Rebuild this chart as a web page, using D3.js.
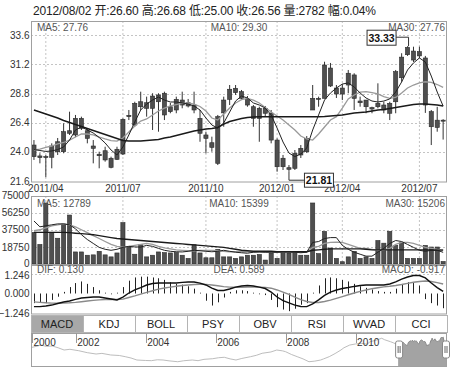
<!DOCTYPE html>
<html><head><meta charset="utf-8">
<script src="https://cdn.jsdelivr.net/npm/d3@7/dist/d3.min.js"></script>
<style>
html,body{margin:0;padding:0;background:#fff;}
svg{display:block;font-family:"Liberation Sans",Arial,"Noto Sans CJK SC",sans-serif;}
</style></head><body>
<svg id="chart" width="450" height="367"></svg>
<script>
// ---------------- DATA ----------------
const titleText = "2012/08/02 开:26.60 高:26.68 低:25.00 收:26.56 量:2782 幅:0.04%";
const tickIdx = [2, 15, 29, 41, 52, 65];
const tickLabels = ["2011/04", "2011/07", "2011/10", "2012/01", "2012/04", "2012/07"];
const priceTicks = [21.6, 24.0, 26.4, 28.8, 31.2, 33.6];
const volTicks = [0, 18750, 37500, 56250, 75000];
const macdTicks = [-1.246, 0, 1.246];

const openP = [24.55,23.65,23.60,23.54,24.00,24.00,25.73,25.38,26.75,25.73,
24.47,23.79,24.08,23.46,23.37,23.81,26.89,26.20,27.71,28.04,
27.58,28.12,28.82,27.30,27.44,28.26,27.77,27.85,26.75,25.38,
24.74,23.04,27.20,28.32,28.87,28.95,28.32,27.71,26.75,27.58,
27.17,24.96,22.76,22.68,22.63,23.73,24.00,27.44,28.40,28.40,
30.90,29.25,28.76,29.50,30.33,28.18,28.26,27.63,27.71,27.85,
27.17,28.12,30.10,32.00,32.30,31.90,31.73,27.30,26.00,26.60];
const highP = [24.96,23.87,23.73,24.69,25.13,26.34,27.30,27.03,26.89,25.93,
24.96,24.00,24.41,23.59,24.41,26.75,27.44,28.12,28.95,28.54,
28.82,28.82,28.95,28.02,28.54,28.95,28.35,28.95,27.44,25.65,
25.24,27.03,28.54,29.50,29.50,29.09,28.59,27.85,27.71,27.77,
27.44,25.10,23.73,22.90,24.14,24.55,25.29,29.50,28.54,31.42,
31.32,29.50,29.58,30.74,30.47,28.54,28.26,27.71,29.64,28.12,
28.12,30.74,32.12,32.70,32.66,32.66,31.90,27.44,27.70,26.68];
const lowP = [23.32,23.04,21.90,22.63,23.73,23.87,25.38,25.20,25.79,24.69,
23.04,22.63,23.18,22.63,23.32,23.73,26.61,26.06,27.44,26.89,
25.79,25.65,26.61,27.17,27.17,27.58,27.65,27.17,24.82,23.87,
24.00,22.90,26.06,27.85,28.68,28.26,27.71,26.06,24.82,26.94,
24.69,22.35,22.49,22.35,22.49,23.48,23.89,27.44,27.71,28.40,
29.34,28.43,28.26,28.82,27.44,27.71,27.17,27.17,27.58,27.17,
26.61,27.17,29.77,31.90,31.40,31.73,27.20,24.55,25.65,25.00];
const closeP = [23.59,23.51,23.55,24.47,24.82,25.65,25.52,26.75,25.93,25.10,
24.28,23.67,23.32,22.71,24.20,26.67,27.00,27.99,28.12,27.58,
28.59,28.68,27.03,27.71,28.32,27.85,28.04,27.44,25.52,25.10,
24.36,26.89,28.26,29.15,29.23,28.40,27.85,26.75,27.58,27.17,
24.96,22.76,23.46,22.55,23.87,24.28,25.10,28.40,28.32,31.15,
29.42,28.76,29.25,30.47,28.40,28.04,27.71,27.52,27.99,27.44,
27.99,30.60,31.80,32.60,31.56,32.25,27.85,26.06,26.60,26.56];

const ma5 = [24.18,24.10,24.02,24.06,24.18,24.39,24.96,25.79,26.04,25.79,
25.54,25.17,24.72,24.14,23.73,24.39,25.38,26.45,27.44,27.93,
28.26,28.51,28.26,28.10,28.10,28.02,27.93,27.77,27.44,26.78,
26.20,25.95,26.37,27.27,28.18,28.59,28.43,28.02,27.85,27.60,
27.03,25.95,24.80,23.89,23.60,23.81,24.31,25.79,27.03,28.26,
28.84,29.25,29.58,29.67,29.34,28.84,28.43,28.18,28.10,28.18,
28.35,28.92,29.75,30.74,31.32,31.73,31.40,30.24,28.92,27.76];
const ma10 = [24.14,24.22,24.35,24.47,24.64,24.76,24.96,25.21,25.46,25.46,
25.38,25.21,25.05,24.92,24.88,25.13,25.62,26.12,26.53,26.70,
27.03,27.36,27.60,27.77,27.89,27.98,28.02,27.93,27.73,27.36,
26.78,26.61,27.11,27.60,28.02,28.30,28.39,28.26,28.02,27.65,
27.27,26.94,26.61,26.20,25.79,25.29,25.05,24.96,25.46,26.04,
26.61,26.89,27.60,28.35,28.68,28.92,28.96,28.88,28.76,28.55,
28.40,28.47,28.84,29.25,29.50,29.67,29.77,29.71,29.54,29.30];
const ma30 = [27.44,27.27,27.11,26.94,26.78,26.57,26.41,26.24,26.08,25.91,
25.75,25.58,25.42,25.25,25.09,24.92,24.88,24.88,24.88,24.92,
24.96,25.01,25.13,25.21,25.34,25.46,25.58,25.71,25.79,25.87,
25.91,26.00,26.28,26.49,26.61,26.74,26.82,26.86,26.89,26.89,
26.89,26.89,26.89,26.89,26.89,26.89,26.89,26.89,26.89,26.90,
26.94,26.99,27.03,27.11,27.19,27.23,27.27,27.36,27.44,27.48,
27.56,27.65,27.73,27.81,27.89,27.93,27.93,27.89,27.85,27.76];

const volume = [34600,21400,66800,34600,28200,43600,53600,13200,13200,9600,
10000,13900,10000,7800,12100,45300,18600,10700,21100,7800,
9600,13200,12500,12100,12500,9600,6100,21100,12100,6800,
6800,16100,7800,7800,6100,7800,9600,9600,10400,4300,
12100,6100,13900,12100,12500,9600,9600,66800,11400,35700,
17500,6100,2500,7800,13900,6100,7800,6100,25700,22800,
35700,20400,23200,6100,6100,6100,20400,18600,18600,2782];
const volMa5 = [47100,40700,41800,42900,43900,43900,42900,38600,32100,26800,
22500,18200,16100,15000,16100,18200,19300,18700,18500,20400,
19300,17100,15000,13900,13400,13200,13900,15000,14500,13900,
13400,13900,15000,13900,12900,12300,11800,12900,13200,12900,
12900,12900,13400,13200,12900,12300,12900,23600,24600,27900,
28900,28900,20400,16100,12900,10700,8600,8600,12900,17100,
22500,25700,24600,21400,18200,15000,13900,15000,15000,12789];
const volMa10 = [36400,37500,39600,41800,42900,43900,42900,40700,37500,34300,
31100,27900,24600,21400,19300,18500,19300,20400,21400,22500,
21400,19300,17700,16600,15500,15000,14500,14500,15000,15000,
15000,14500,13900,13400,13400,13400,13200,12900,12900,12900,
12900,12900,12900,12900,12900,12900,12900,18200,19300,22500,
23600,23900,23600,21400,19300,17100,17100,16100,15000,15000,
17100,21400,23600,23600,22500,20400,18200,17100,16100,15399];
const volMa30 = [34600,34600,34600,34600,34600,34600,34300,33700,33200,32700,
32100,31100,30000,28900,27900,27300,26800,26200,25700,25200,
24600,24100,23600,23000,22500,22000,21400,20900,20400,19800,
19300,18700,18200,17100,16100,15000,14500,13900,13900,13900,
13900,13400,13400,13400,13400,13400,13400,15000,15500,16100,
16600,16600,16600,16600,16600,16600,16100,15500,15500,15500,
15500,15500,15500,15500,15500,15500,15500,15300,15200,15206];

const dif = [-0.82,-0.82,-0.78,-0.72,-0.62,-0.53,-0.47,-0.37,-0.28,-0.25,
-0.22,-0.22,-0.28,-0.34,-0.40,-0.22,0.03,0.22,0.37,0.53,
0.62,0.65,0.65,0.65,0.65,0.69,0.72,0.72,0.65,0.53,
0.34,0.19,0.19,0.28,0.40,0.47,0.50,0.47,0.40,0.31,
0.09,-0.22,-0.44,-0.59,-0.72,-0.81,-0.82,-0.65,-0.40,-0.12,
0.09,0.22,0.31,0.37,0.44,0.50,0.53,0.53,0.53,0.53,
0.59,0.72,0.90,1.03,1.12,1.12,0.97,0.65,0.37,0.130];
const dea = [-0.52,-0.55,-0.58,-0.60,-0.61,-0.60,-0.58,-0.55,-0.51,-0.47,
-0.43,-0.40,-0.37,-0.36,-0.37,-0.35,-0.25,-0.15,-0.04,0.07,
0.17,0.27,0.34,0.40,0.45,0.50,0.53,0.56,0.58,0.57,
0.53,0.48,0.43,0.40,0.39,0.39,0.40,0.40,0.40,0.38,
0.33,0.22,0.08,-0.06,-0.22,-0.38,-0.50,-0.56,-0.56,-0.50,
-0.41,-0.30,-0.19,-0.08,0.03,0.13,0.22,0.30,0.36,0.41,
0.45,0.50,0.56,0.63,0.70,0.75,0.78,0.75,0.68,0.589];
const macdHist = [-0.60,-0.55,-0.60,-0.40,-0.20,0.10,0.40,0.65,0.75,0.60,
0.40,0.20,0.05,-0.05,0.05,0.40,0.80,1.00,1.05,1.05,
1.00,0.95,0.85,0.70,0.60,0.55,0.45,0.30,0.05,-0.45,
-0.75,-0.55,-0.25,0.10,0.20,0.20,0.15,0.05,-0.05,-0.10,
-0.40,-0.85,-1.00,-1.10,-0.95,-0.70,-0.60,0.05,0.50,0.95,
1.00,0.95,0.85,0.75,0.60,0.45,0.35,0.25,0.15,0.10,
0.10,0.30,0.55,0.70,0.65,0.50,-0.35,-0.60,-0.75,-0.917];

const priceLegend = ["MA5: 27.76", "MA10: 29.30", "MA30: 27.76"];
const volLegend = ["MA5: 12789", "MA10: 15399", "MA30: 15206"];
const macdLegend = ["DIF: 0.130", "DEA: 0.589", "MACD: -0.917"];
const highMark = {idx: 63, text: "33.33"};
const lowMark = {idx: 43, text: "21.81"};
const indicators = ["MACD", "KDJ", "BOLL", "PSY", "OBV", "RSI", "WVAD", "CCI"];
const activeIndicator = "MACD";

const navDates = ["2000-10","2000-12","2001-01","2001-03","2001-05","2001-07","2001-09","2001-11","2002-02","2002-05","2002-08","2002-10","2003-01","2003-04","2003-06","2003-08","2003-10","2004-01","2004-03","2004-05","2004-07","2004-09","2004-12","2005-02","2005-05","2005-07","2005-09","2005-12","2006-02","2006-04","2006-06","2006-08","2006-10","2007-01","2007-03","2007-05","2007-08","2007-10","2007-12","2008-01","2008-03","2008-05","2008-07","2008-09","2008-11","2009-01","2009-02","2009-04","2009-06","2009-08","2009-09","2009-11","2010-01","2010-03","2010-05","2010-06","2010-08","2010-10","2010-11","2011-01","2011-02"];
const navValues = [21.0,22.5,23.6,22.0,22.5,20.5,18.0,18.8,17.2,15.0,13.5,14.2,12.4,11.8,10.5,9.0,6.75,6.2,6.0,7.0,6.75,5.8,4.8,5.9,6.75,6.0,7.5,8.2,9.3,9.8,8.0,6.75,8.5,10.5,12.0,14.3,15.8,18.0,17.0,16.1,13.0,10.5,8.0,4.8,5.5,6.75,8.0,10.5,14.0,18.0,20.5,23.6,24.8,25.5,24.5,27.3,29.0,31.2,29.5,27.3,26.0];
const navTickYears = ["2000", "2002", "2004", "2006", "2008", "2010"];
const navStart = "2000-10-01", navEnd = "2012-08-02";
const selStart = "2011-03-21", selEnd = "2012-08-02";

// ---------------- LAYOUT ----------------
const L = 31, R = 447;
const P = {top: 21, bot: 182.5};
const V = {top: 196, bot: 265};
const M = {top: 265, bot: 314.5};
const B = {top: 315, bot: 332};
const N = {top: 333, bot: 366};
const GRID = "#c4c4c4", FRAME = "#a0a0a0", TXT = "#333";

const svg = d3.select("#chart");
const idx = d3.range(closeP.length);
const x = d3.scaleBand().domain(idx).range([L, R - 0.9]).paddingInner(0.3).paddingOuter(0.15);
const cx = i => x(i) + x.bandwidth() / 2;
const yP = d3.scaleLinear().domain([21.6, 33.6]).range([180.8, 35.3]);
const yV = d3.scaleLinear().domain([0, 75000]).range([264, 195.5]);
const yM = d3.scaleLinear().domain([-1.246, 1.246]).range([313.5, 273.5]);

const defs = svg.append("defs");
function clip(id, t, b) {
  defs.append("clipPath").attr("id", id).append("rect")
    .attr("x", L).attr("y", t).attr("width", R - L).attr("height", b - t);
}
clip("cP", P.top, P.bot); clip("cV", V.top, V.bot); clip("cM", M.top, M.bot);

// title (fitted to the reference span)
svg.append("text").attr("x", 33).attr("y", 14.5).attr("font-size", 12).attr("fill", "#222")
  .attr("textLength", 343).attr("lengthAdjust", "spacing").text(titleText);

// ---------- grids ----------
function vgrid(t, b) {
  svg.append("g").selectAll("line").data(tickIdx).join("line")
    .attr("x1", d => cx(d)).attr("x2", d => cx(d)).attr("y1", t).attr("y2", b)
    .attr("stroke", GRID).attr("stroke-dasharray", "2,2");
}
function hgrid(vals, sc) {
  svg.append("g").selectAll("line").data(vals).join("line")
    .attr("x1", L).attr("x2", R).attr("y1", d => Math.round(sc(d)) + 0.5).attr("y2", d => Math.round(sc(d)) + 0.5)
    .attr("stroke", GRID).attr("stroke-dasharray", "2,2");
}
vgrid(P.top, P.bot); hgrid(priceTicks.slice(1), yP);
vgrid(V.top, V.bot); hgrid(volTicks.slice(1, 4), yV);
hgrid([macdTicks[2]], yM);

// ---------- axes ----------
function leftAxis(sc, vals, fmt, labelShift) {
  const g = svg.append("g").attr("transform", `translate(${L},0)`)
    .call(d3.axisLeft(sc).tickValues(vals).tickFormat(fmt).tickSize(0).tickPadding(1.5));
  g.select(".domain").remove();
  g.selectAll("text").attr("font-size", 10).attr("fill", TXT).attr("font-family", null);
  if (labelShift) g.selectAll(".tick").filter(labelShift[0]).select("text").attr("dy", labelShift[1]);
}
leftAxis(yP, priceTicks, d3.format(".1f"));
leftAxis(yV, volTicks, d3.format("d"), [d => d === 0, "0.2em"]);
leftAxis(yM, macdTicks, d3.format(".3f"), [d => d > 1, "0.45em"]);

const xa = svg.append("g").attr("transform", `translate(0,${P.bot})`)
  .call(d3.axisBottom(x).tickValues(tickIdx).tickFormat((d, k) => tickLabels[k]).tickSize(0).tickPadding(2));
xa.select(".domain").remove();
xa.selectAll("text").attr("font-size", 10).attr("fill", TXT).attr("font-family", null);

// ---------- candles ----------
const cg = svg.append("g").attr("clip-path", "url(#cP)");
cg.selectAll("line").data(idx).join("line")
  .attr("x1", i => cx(i)).attr("x2", i => cx(i))
  .attr("y1", i => yP(highP[i])).attr("y2", i => yP(lowP[i]))
  .attr("stroke", "#333").attr("stroke-width", 1);
cg.selectAll("rect").data(idx).join("rect")
  .attr("x", i => x(i)).attr("width", x.bandwidth())
  .attr("y", i => yP(Math.max(openP[i], closeP[i])))
  .attr("height", i => Math.max(1, yP(Math.min(openP[i], closeP[i])) - yP(Math.max(openP[i], closeP[i]))))
  .attr("fill", "#4f4f4f").attr("stroke", "#2a2a2a").attr("stroke-width", 0.6);

function maLine(g, arr, sc, color, w) {
  g.append("path").datum(arr)
    .attr("d", d3.line().x((d, i) => cx(i)).y(d => sc(d)))
    .attr("fill", "none").attr("stroke", color).attr("stroke-width", w);
}
maLine(cg, ma10, yP, "#9a9a9a", 1.3);
maLine(cg, ma30, yP, "#1a1a1a", 1.5);
maLine(cg, ma5, yP, "#222", 1);

// ---------- volume ----------
const vg = svg.append("g").attr("clip-path", "url(#cV)");
vg.selectAll("rect").data(idx).join("rect")
  .attr("x", i => x(i)).attr("width", x.bandwidth())
  .attr("y", i => yV(volume[i])).attr("height", i => Math.max(1, yV(0) - yV(volume[i])))
  .attr("fill", "#4f4f4f").attr("stroke", "#2a2a2a").attr("stroke-width", 0.6);
maLine(vg, volMa10, yV, "#9a9a9a", 1.3);
maLine(vg, volMa30, yV, "#1a1a1a", 1.4);
maLine(vg, volMa5, yV, "#222", 1);

// ---------- macd ----------
const mg = svg.append("g").attr("clip-path", "url(#cM)");
mg.selectAll("line").data(idx).join("line")
  .attr("x1", i => Math.round(cx(i)) + 0.5).attr("x2", i => Math.round(cx(i)) + 0.5)
  .attr("y1", yM(0)).attr("y2", i => yM(macdHist[i]))
  .attr("stroke", "#222").attr("stroke-width", 1);
maLine(mg, dea, yM, "#8a8a8a", 1.4);
maLine(mg, dif, yM, "#111", 1.4);

// ---------- frames ----------
function frame(t, b) {
  svg.append("rect").attr("x", L + 0.5).attr("y", t + 0.5).attr("width", R - L - 1).attr("height", b - t - 1)
    .attr("fill", "none").attr("stroke", FRAME);
}
frame(P.top, P.bot); frame(V.top, V.bot); frame(M.top, M.bot);

// ---------- legends ----------
function legend(y, arr) {
  svg.append("text").attr("x", 37).attr("y", y).attr("font-size", 10).attr("fill", "#555").text(arr[0]);
  svg.append("text").attr("x", 239).attr("y", y).attr("text-anchor", "middle").attr("font-size", 10).attr("fill", "#555").text(arr[1]);
  svg.append("text").attr("x", 445).attr("y", y).attr("text-anchor", "end").attr("font-size", 10).attr("fill", "#555").text(arr[2]);
}
legend(30.5, priceLegend);
legend(206.5, volLegend);
legend(272.5, macdLegend);

// ---------- high / low marks ----------
(function () {
  const c = cx(highMark.idx), yh = yP(highP[highMark.idx]);
  const bx = c - 41, by = yh - 16.5;
  svg.append("path").attr("d", `M${bx + 29},${by + 7.5}H${c + 1}V${yh}`).attr("fill", "none").attr("stroke", "#333");
  svg.append("rect").attr("x", bx + 0.5).attr("y", by + 0.5).attr("width", 29).attr("height", 15)
    .attr("fill", "#fff").attr("stroke", "#333");
  svg.append("text").attr("x", bx + 15).attr("y", by + 12).attr("text-anchor", "middle")
    .attr("font-size", 10.5).attr("font-weight", "bold").attr("fill", "#111").text(highMark.text);

  const c2 = cx(lowMark.idx), yl = yP(lowP[lowMark.idx]);
  const lx = c2 + 15, ly = yl + 1;
  svg.append("path").attr("d", `M${c2},${yl}V${ly + 7.5}H${lx}`).attr("fill", "none").attr("stroke", "#333");
  svg.append("rect").attr("x", lx + 0.5).attr("y", ly + 0.5).attr("width", 29).attr("height", 14)
    .attr("fill", "#fff").attr("stroke", "#333");
  svg.append("text").attr("x", lx + 15).attr("y", ly + 11.5).attr("text-anchor", "middle")
    .attr("font-size", 10.5).attr("font-weight", "bold").attr("fill", "#111").text(lowMark.text);
})();

// ---------- indicator buttons ----------
const bx = d3.scaleBand().domain(indicators).range([L, R]);
const bg = svg.append("g");
bg.selectAll("rect").data(indicators).join("rect")
  .attr("x", d => bx(d) + 0.5).attr("y", B.top + 0.5).attr("width", bx.bandwidth()).attr("height", B.bot - B.top)
  .attr("fill", d => d === activeIndicator ? "#a8a8a8" : "#fff").attr("stroke", "#b4b4b4");
bg.selectAll("text").data(indicators).join("text")
  .attr("x", d => bx(d) + bx.bandwidth() / 2).attr("y", B.top + 12.5).attr("text-anchor", "middle")
  .attr("font-size", 11).attr("fill", "#222").text(d => d);

// ---------- navigator ----------
const parseM = d3.timeParse("%Y-%m"), parseD = d3.timeParse("%Y-%m-%d");
const navX = d3.scaleTime().domain([parseD(navStart), parseD(navEnd)]).range([32, 446]);
const navY = d3.scaleLinear().domain([0, 36]).range([366, 334]);
const s0 = parseD(selStart), s1 = parseD(selEnd);
const weekDate = i => new Date(+s0 + (s1 - s0) * i / (closeP.length - 1));
const hist = navDates.map((d, k) => [navX(parseM(d)), navY(navValues[k])]);
const sel = closeP.map((v, i) => [navX(weekDate(i)), navY(v)]);

svg.append("rect").attr("x", L + 0.5).attr("y", N.top + 0.5).attr("width", R - L - 1).attr("height", N.bot - N.top)
  .attr("fill", "#fff").attr("stroke", FRAME);
svg.append("path").datum(sel)
  .attr("d", d3.area().x(d => d[0]).y0(N.bot).y1(d => d[1]))
  .attr("fill", "#a3a3a3");
svg.append("path").datum(hist.concat(sel))
  .attr("d", d3.line())
  .attr("fill", "none").attr("stroke", "#bdbdbd").attr("stroke-width", 1);
svg.append("path").datum(sel)
  .attr("d", d3.line())
  .attr("fill", "none").attr("stroke", "#8a8a8a").attr("stroke-width", 1);

const navXc = navX.copy().clamp(true);
const nt = svg.append("g");
nt.selectAll("line").data(navTickYears).join("line")
  .attr("x1", d => Math.round(navXc(parseM(d + "-01"))) + 0.5).attr("x2", d => Math.round(navXc(parseM(d + "-01"))) + 0.5)
  .attr("y1", N.top).attr("y2", N.top + 10).attr("stroke", "#999");
nt.selectAll("text").data(navTickYears).join("text")
  .attr("x", d => navXc(parseM(d + "-01")) + 1.5).attr("y", N.top + 13)
  .attr("font-size", 10).attr("fill", TXT).text(d => d);

[navX(s0) - 2.5, navX(s1) - 3.5].forEach(hx => {
  svg.append("rect").attr("x", hx).attr("y", 341).attr("width", 7).attr("height", 17).attr("rx", 2)
    .attr("fill", "#fff").attr("stroke", "#888");
  [2.5, 4.5].forEach(o => svg.append("line").attr("x1", hx + o).attr("x2", hx + o).attr("y1", 346).attr("y2", 353)
    .attr("stroke", "#666"));
});
</script>
</body></html>
